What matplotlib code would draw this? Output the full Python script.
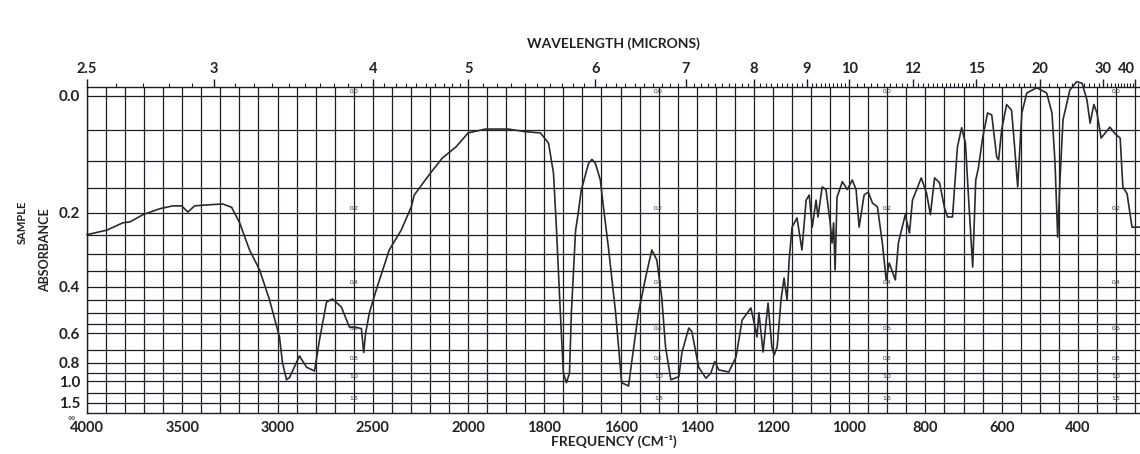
"""IR spectrum on a transmittance-linear grid labelled in absorbance."""

import matplotlib
matplotlib.use("Agg")
import matplotlib.pyplot as plt
import numpy as np

plt.rcParams['font.family'] = ['Lato', 'DejaVu Sans']

# spectrum: frequency (cm-1) and absorbance
freq = [4000, 3895, 3812, 3775, 3707, 3618, 3550, 3503, 3471, 3435, 3372, 3288,
        3241, 3199, 3147, 3094, 3042, 2990, 2974, 2953, 2937, 2885, 2848, 2806,
        2780, 2743, 2712, 2665, 2623, 2580, 2560, 2548, 2538, 2518, 2482, 2414,
        2351, 2298, 2283, 2204, 2136, 2063, 2000, 1955, 1895, 1850, 1810, 1789,
        1776, 1768, 1758, 1750, 1742, 1734, 1729, 1718, 1711, 1703, 1684, 1675,
        1666, 1653, 1645, 1632, 1613, 1597, 1579, 1571, 1553, 1534, 1518, 1505,
        1492, 1482, 1468, 1447, 1439, 1421, 1413, 1395, 1376, 1363, 1353, 1342,
        1316, 1297, 1281, 1258, 1247, 1242, 1237, 1226, 1213, 1203, 1197, 1189,
        1179, 1171, 1163, 1158, 1150, 1137, 1124, 1113, 1105, 1097, 1087, 1082,
        1071, 1061, 1050, 1045, 1041, 1037, 1032, 1018, 1005, 992, 982, 974, 961,
        950, 939, 926, 913, 903, 895, 879, 871, 853, 842, 834, 811, 797, 787, 776,
        763, 750, 742, 729, 716, 705, 695, 687, 676, 668, 661, 650, 637, 626,
        613, 608, 600, 587, 574, 566, 558, 547, 534, 508, 482, 468, 460, 453,
        447, 439, 421, 403, 389, 376, 368, 358, 350, 339, 316, 303, 289, 282,
        271, 258, 237]
absorbance = [0.250, 0.239, 0.222, 0.220, 0.204, 0.191, 0.185, 0.185, 0.198, 0.185,
              0.183, 0.181, 0.188, 0.222, 0.289, 0.346, 0.448, 0.62, 0.80, 0.98,
              0.95, 0.745, 0.84, 0.878, 0.638, 0.456, 0.444, 0.476, 0.567, 0.57,
              0.575, 0.72, 0.60, 0.50, 0.411, 0.289, 0.239, 0.187, 0.163, 0.124,
              0.095, 0.076, 0.054, 0.048, 0.048, 0.052, 0.054, 0.07, 0.121, 0.239,
              0.50, 0.90, 1.02, 0.90, 0.50, 0.24, 0.20, 0.153, 0.104, 0.097, 0.104,
              0.134, 0.187, 0.281, 0.50, 1.02, 1.07, 0.80, 0.50, 0.368, 0.289,
              0.316, 0.437, 0.68, 0.98, 0.94, 0.72, 0.572, 0.59, 0.84, 0.96, 0.90,
              0.79, 0.867, 0.888, 0.753, 0.533, 0.48, 0.567, 0.62, 0.50, 0.716,
              0.46, 0.68, 0.738, 0.68, 0.448, 0.371, 0.448, 0.322, 0.232, 0.211,
              0.289, 0.173, 0.163, 0.232, 0.173, 0.209, 0.147, 0.152, 0.222, 0.271,
              0.222, 0.346, 0.167, 0.137, 0.152, 0.134, 0.152, 0.232, 0.163, 0.157,
              0.179, 0.187, 0.271, 0.377, 0.325, 0.377, 0.271, 0.204, 0.246, 0.173,
              0.13, 0.159, 0.204, 0.13, 0.139, 0.189, 0.209, 0.209, 0.076, 0.046,
              0.07, 0.167, 0.337, 0.134, 0.112, 0.062, 0.024, 0.027, 0.093, 0.098,
              0.049, 0.012, 0.02, 0.076, 0.147, 0.024, -0.004, -0.011, -0.004,
              0.024, 0.103, 0.256, 0.134, 0.034, -0.008, -0.019, -0.017, 0.006,
              0.039, 0.012, 0.024, 0.062, 0.045, 0.055, 0.062, 0.147, 0.16, 0.232,
              0.232]

# chart paper
abs_labels = [0.0, 0.2, 0.4, 0.6, 0.8, 1.0, 1.5]
abs_grid = [0.0, 0.05, 0.1, 0.15, 0.2, 0.25, 0.3, 0.35, 0.4, 0.45, 0.5, 0.55,
            0.6, 0.7, 0.8, 0.9, 1.0, 1.2, 1.5]
freq_labels = [4000, 3500, 3000, 2500, 2000, 1800, 1600, 1400, 1200, 1000, 800, 600, 400]
wave_labels = [2.5, 3, 4, 5, 6, 7, 8, 9, 10, 12, 15, 20, 30, 40]
scale_columns = [2600, 1500, 900, 300]


def fwd(f):
    """Frequency axis is twice as wide below 2000 cm-1."""
    f = np.asarray(f, dtype=float)
    return np.where(f >= 2000, f, 2 * f - 2000)


def inv(g):
    g = np.asarray(g, dtype=float)
    return np.where(g >= 2000, g, (g + 2000) / 2)


def to_t(a):
    return 10 ** (-np.asarray(a, dtype=float))


fig = plt.figure(figsize=(11.4, 4.54), dpi=100)
ax = fig.add_axes([87 / 1140, 41 / 454, 1053 / 1140, 326 / 454])
ax.set_xscale('function', functions=(fwd, inv))
ax.set_xlim(4000, 237)
ax.set_ylim(0, 1.028)

grid_color = '#1c1c2c'
# horizontal lines, linear in transmittance
for a in abs_grid:
    ax.axhline(to_t(a), color=grid_color, lw=0.9, zorder=1)
# vertical lines: every 100 above 2000, every 50 below
v_lines = list(range(4000, 2000, -100)) + list(range(2000, 249, -50))
for f in v_lines:
    ax.axvline(f, color=grid_color, lw=0.9, zorder=1)

ax.plot(freq, to_t(absorbance), color='#2a2a2a', lw=1.2, zorder=3, clip_on=False)

for spine in ['left', 'bottom', 'top']:
    ax.spines[spine].set_color(grid_color)
    ax.spines[spine].set_linewidth(1.0)
ax.spines['right'].set_visible(False)

ax.set_yticks(to_t(abs_labels))
ax.set_yticklabels(['%.1f' % a for a in abs_labels])
ax.tick_params(axis='y', length=0, pad=5, labelsize=11)
for lab in ax.get_yticklabels():
    lab.set_fontweight('bold')
    lab.set_color('#222222')

ax.set_xticks(freq_labels)
ax.set_xticklabels([str(f) for f in freq_labels])
ax.xaxis.set_minor_locator(matplotlib.ticker.NullLocator())
ax.tick_params(axis='x', length=0, pad=6, labelsize=10.5)
for lab in ax.get_xticklabels():
    lab.set_fontweight('bold')
    lab.set_color('#222222')
ax.set_xlabel('FREQUENCY (CM\u207b\u00b9)', fontsize=10, fontweight='bold',
              color='#222222', labelpad=0)

# wavelength scale on top
top = ax.twiny()
top.set_xscale('function', functions=(fwd, inv))
top.set_xlim(ax.get_xlim())
top.set_xticks([10000 / w for w in wave_labels])
top.set_xticklabels(['%g' % w for w in wave_labels])
minor_wl = list(np.arange(2.6, 10.0, 0.1)) + list(np.arange(10.2, 15.0, 0.2)) + \
    list(np.arange(15.5, 20.0, 0.5)) + list(np.arange(21, 40, 1.0))
top.set_xticks([10000 / w for w in minor_wl], minor=True)
top.tick_params(axis='x', which='major', direction='out', length=6, width=1,
                color=grid_color, pad=2, labelsize=10.5)
top.tick_params(axis='x', which='minor', direction='out', length=3, width=0.8,
                color=grid_color)
for lab in top.get_xticklabels():
    lab.set_fontweight('bold')
    lab.set_color('#222222')
top.get_xticklabels()[-1].set_horizontalalignment('right')
top.set_xlabel('WAVELENGTH (MICRONS)', fontsize=10, fontweight='bold',
               color='#222222', labelpad=10)
for spine in top.spines.values():
    spine.set_visible(False)

# small repeated scale figures printed on the paper
for col in scale_columns:
    for a in abs_labels:
        ax.annotate('%.1f' % a, (col, to_t(a)), xytext=(0, 1.5),
                    textcoords='offset points', ha='center', va='bottom',
                    fontsize=4.5, color='#333333', zorder=2)

ax.text(-0.012, -0.004, '\u221e', transform=ax.transAxes, ha='right', va='top',
        fontsize=7, color='#333333')

fig.text(45 / 1140, 1 - 250 / 454, 'ABSORBANCE', rotation=90, ha='center',
         va='center', fontsize=9, fontweight='bold', color='#222222')
fig.text(22 / 1140, 1 - 222 / 454, 'SAMPLE', rotation=90, ha='center',
         va='center', fontsize=8, fontweight='bold', color='#222222')

fig.savefig('out.png', dpi=100, facecolor='white')
